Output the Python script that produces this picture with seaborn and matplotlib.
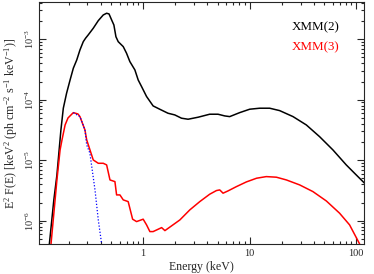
import pandas as pd
import matplotlib.pyplot as plt
import matplotlib.ticker as mticker
import seaborn as sns

# XMM(2) model spectrum (E in keV, E^2 F(E))
xmm2_energy = [0.1316, 0.145, 0.155, 0.169, 0.178, 0.191, 0.206, 0.221, 0.238, 0.255,
               0.274, 0.288, 0.305, 0.340, 0.379, 0.422, 0.454, 0.478, 0.506, 0.531,
               0.555, 0.583, 0.650, 0.698, 0.750, 0.836, 0.898, 0.966, 1.076, 1.24,
               1.43, 1.71, 1.98, 2.29, 2.64, 3.28, 4.21, 5.04, 5.83, 6.49,
               8.05, 10.0, 12.4, 15.4, 19.1, 25.5, 34.0, 45.3, 60.4, 80.6,
               100.0, 119.7]
xmm2_flux = [4.09e-7, 2.2e-6, 5.7e-6, 3.17e-5, 7.24e-5, 1.28e-4, 2.12e-4, 3.32e-4, 4.55e-4, 6.65e-4,
             9.12e-4, 1.04e-3, 1.18e-3, 1.52e-3, 2.03e-3, 2.52e-3, 2.69e-3, 2.62e-3, 2.08e-3, 1.72e-3,
             1.10e-3, 9.12e-4, 7.55e-4, 5.87e-4, 4.27e-4, 3.11e-4, 2.12e-4, 1.65e-4, 1.13e-4, 7.9e-5,
             6.97e-5, 5.98e-5, 5.61e-5, 4.95e-5, 4.76e-5, 5.14e-5, 5.76e-5, 5.76e-5, 5.40e-5, 5.26e-5,
             6.12e-5, 6.97e-5, 7.24e-5, 7.24e-5, 6.61e-5, 5.26e-5, 3.83e-5, 2.45e-5, 1.48e-5, 8.36e-6,
             5.71e-6, 4.17e-6]

# XMM(3) model spectrum
xmm3_energy = [0.1364, 0.149, 0.155, 0.166, 0.173, 0.185, 0.197, 0.221, 0.244, 0.255,
               0.284, 0.295, 0.340, 0.379, 0.422, 0.454, 0.488, 0.543, 0.563, 0.605,
               0.650, 0.723, 0.796, 0.867, 1.0, 1.076, 1.156, 1.24, 1.49, 1.60,
               2.21, 2.74, 3.40, 4.21, 4.87, 5.23, 5.43, 5.62, 6.26, 7.50,
               9.31, 11.6, 14.3, 17.8, 22.1, 29.4, 39.2, 52.4, 69.8, 86.6,
               107.5]
xmm3_flux = [4.1e-7, 2.21e-6, 4.72e-6, 1.48e-5, 2.17e-5, 3.83e-5, 5.0e-5, 6.12e-5, 5.82e-5, 5.26e-5,
             3.17e-5, 2.17e-5, 1.01e-5, 8.9e-6, 8.9e-6, 8.36e-6, 4.72e-6, 4.43e-6, 2.67e-6, 2.67e-6,
             2.21e-6, 2.07e-6, 1.06e-6, 9.67e-7, 1.06e-6, 8.53e-7, 6.61e-7, 6.61e-7, 7.69e-7, 6.86e-7,
             1.03e-6, 1.51e-6, 2.07e-6, 2.74e-6, 3.15e-6, 3.23e-6, 3.03e-6, 2.85e-6, 3.11e-6, 3.66e-6,
             4.38e-6, 5.04e-6, 5.36e-6, 5.24e-6, 4.72e-6, 3.91e-6, 3.03e-6, 2.12e-6, 1.33e-6, 8.53e-7,
             4.14e-7]

# soft blackbody-like component (blue dotted)
bb_energy = [0.221, 0.255, 0.284, 0.295, 0.316, 0.353, 0.379, 0.408]
bb_flux = [6.1e-5, 5.26e-5, 3.17e-5, 1.79e-5, 1.31e-5, 3.23e-6, 1.03e-6, 4.07e-7]

sns.set_style("ticks")
plt.rcParams['font.family'] = ['Liberation Serif', 'DejaVu Serif']
plt.rcParams['mathtext.fontset'] = 'custom'
plt.rcParams['mathtext.rm'] = 'Liberation Serif'
plt.rcParams['mathtext.it'] = 'Liberation Serif:italic'
plt.rcParams['mathtext.default'] = 'regular'

fig = plt.figure(figsize=(3.74, 2.74), dpi=100)
ax = fig.add_axes([0.104, 0.109, 0.869, 0.884])

d2 = pd.DataFrame({"E": xmm2_energy, "F": xmm2_flux})
d3 = pd.DataFrame({"E": xmm3_energy, "F": xmm3_flux})
dbb = pd.DataFrame({"E": bb_energy, "F": bb_flux})

sns.lineplot(data=d2, x="E", y="F", color="black", lw=1.1, sort=False, estimator=None, ax=ax)
sns.lineplot(data=d3, x="E", y="F", color="red", lw=1.1, sort=False, estimator=None, ax=ax)
sns.lineplot(data=dbb, x="E", y="F", color="blue", lw=0.9, ls=(0, (1, 1.5)), sort=False,
             estimator=None, ax=ax)

ax.set_xscale("log")
ax.set_yscale("log")
ax.set_xlim(0.105, 118)
ax.set_ylim(4.1e-7, 4.14e-3)

ax.xaxis.set_major_locator(mticker.FixedLocator([1, 10, 100]))
ax.xaxis.set_major_formatter(mticker.FixedFormatter(["1", "10", "100"]))
ax.xaxis.set_minor_locator(mticker.LogLocator(base=10, subs=range(2, 10)))
ax.xaxis.set_minor_formatter(mticker.NullFormatter())
ax.yaxis.set_major_locator(mticker.LogLocator(base=10))
ax.yaxis.set_major_formatter(mticker.LogFormatterMathtext())
ax.yaxis.set_minor_locator(mticker.LogLocator(base=10, subs=range(2, 10)))
ax.yaxis.set_minor_formatter(mticker.NullFormatter())

ax.tick_params(which="both", direction="in", top=True, right=True, width=0.8, labelsize=7.5)
ax.tick_params(which="major", length=5)
ax.tick_params(which="minor", length=2.5)
ax.tick_params(axis="y", pad=2)
for lab in ax.get_yticklabels():
    lab.set_rotation(90)
    lab.set_va("center")
for sp in ax.spines.values():
    sp.set_linewidth(0.8)

ax.set_xlabel("Energy (keV)", fontsize=8.6, labelpad=2)
ax.set_ylabel(r"E$^2$ F(E) [keV$^2$ (ph cm$^{-2}$ s$^{-1}$ keV$^{-1}$)]", fontsize=8.6, labelpad=3)

ax.text(0.778, 0.897, "XMM(2)", color="black", fontsize=9.4, transform=ax.transAxes, va="center")
ax.text(0.778, 0.811, "XMM(3)", color="red", fontsize=9.4, transform=ax.transAxes, va="center")

plt.savefig("out.png", dpi=100)
